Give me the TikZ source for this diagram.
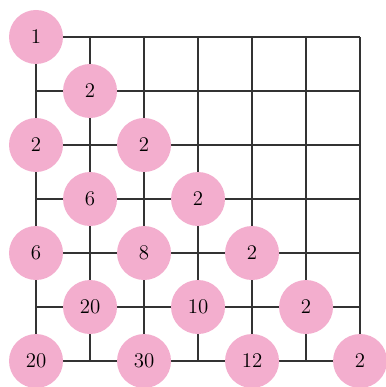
\documentclass[tikz,border=0pt]{standalone}
\definecolor{cellpink}{RGB}{243,174,206}
\tikzset{
	cell/.style={circle, fill=cellpink, minimum size=1cm, inner sep=0pt, font=\fontsize{11}{13}\selectfont},
	gridline/.style={black!80, line width=0.6pt}
}
\begin{document}
\begin{tikzpicture}
		
		\useasboundingbox (-0.667,0.685) rectangle (6.463,-6.481);
		
		% Grid
		\draw[gridline] (0,0) grid (6,-6);
		
		% Counts
		\node[cell] (c00) at (0,0) {1};
		
		\node[cell] (c11) at (1,-1) {2};
		
		\node[cell] (c02) at (0,-2) {2};
		\node[cell] (c22) at (2,-2) {2};
		
		\node[cell] (c13) at (1,-3) {6};
		\node[cell] (c33) at (3,-3) {2};
		
		\node[cell] (c04) at (0,-4) {6};
		\node[cell] (c24) at (2,-4) {8};
		\node[cell] (c44) at (4,-4) {2};
		
		\node[cell] (c15) at (1,-5) {20};
		\node[cell] (c35) at (3,-5) {10};
		\node[cell] (c55) at (5,-5) {2};
		
		\node[cell] (c06) at (0,-6) {20};
		\node[cell] (c26) at (2,-6) {30};
		\node[cell] (c46) at (4,-6) {12};
		\node[cell] (c66) at (6,-6) {2};
		
	\end{tikzpicture}
\end{document}
